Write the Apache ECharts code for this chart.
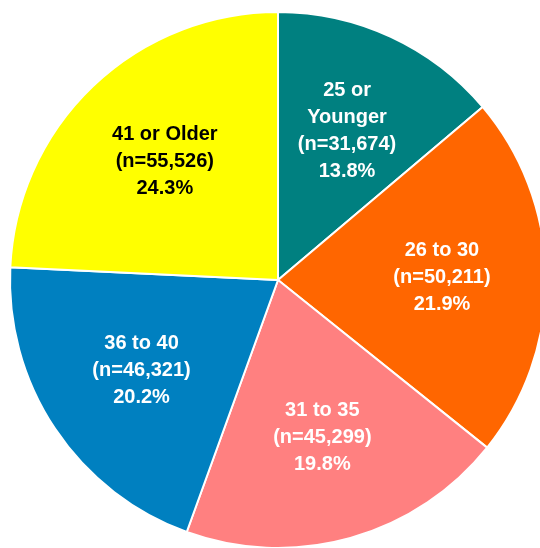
<!DOCTYPE html>
<html>
<head>
<meta charset="utf-8">
<script src="https://cdn.jsdelivr.net/npm/echarts@6/dist/echarts.min.js"></script>
<style>
  html, body { margin: 0; padding: 0; background: #fff; }
</style>
</head>
<body>
<div id="chart" style="width: 540px; height: 548px"></div>
<script>
const groups = ['25 or\nYounger', '26 to 30', '31 to 35', '36 to 40', '41 or Older'];
const counts = [31674, 50211, 45299, 46321, 55526];
const percents = ['13.8%', '21.9%', '19.8%', '20.2%', '24.3%'];
const colors = ['#008080', '#FF6600', '#FF8080', '#0080C0', '#FFFF00'];
const labelColors = ['#fff', '#fff', '#fff', '#fff', '#000'];

const sliceData = groups.map((g, i) => ({
  name: g,
  value: counts[i],
  itemStyle: { color: colors[i] },
}));

const labelData = groups.map((g, i) => ({
  name: g,
  value: counts[i],
  itemStyle: { color: 'transparent' },
  label: { color: labelColors[i] },
}));

let option = {
  animation: false,
  series: [
    {
      type: 'pie',
      center: [278, 280],
      radius: [0, 268],
      startAngle: 90,
      clockwise: true,
      silent: true,
      itemStyle: {
        borderColor: '#fff',
        borderWidth: 2,
      },
      label: { show: false },
      labelLine: { show: false },
      data: sliceData,
    },
    {
      // transparent copy only used to place the labels further out
      type: 'pie',
      center: [278, 280],
      radius: [0, 322],
      startAngle: 90,
      clockwise: true,
      silent: true,
      label: {
        show: true,
        position: 'inside',
        fontFamily: 'Liberation Sans, Arial, sans-serif',
        fontWeight: 'bold',
        fontSize: 20,
        lineHeight: 27,
        align: 'center',
        formatter: function (p) {
          let i = p.dataIndex;
          return groups[i] + '\n(n=' + counts[i].toLocaleString('en-US') + ')\n' + percents[i];
        },
      },
      labelLine: { show: false },
      data: labelData,
    },
  ],
};

let myChart = echarts.init(document.getElementById('chart'));
myChart.setOption(option);
</script>
</body>
</html>
